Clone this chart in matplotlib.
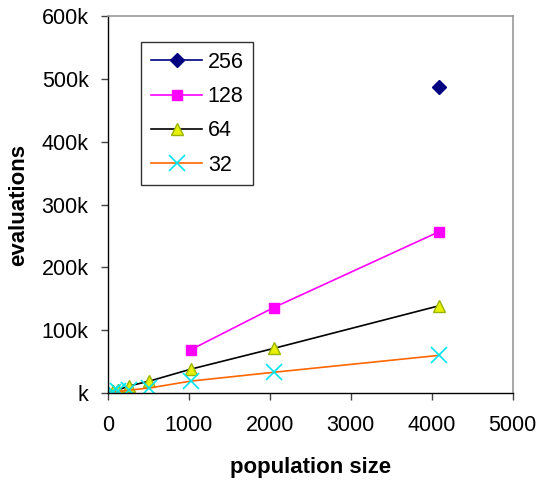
import matplotlib.pyplot as plt
from matplotlib.ticker import FuncFormatter

plt.rcParams['font.family'] = ['Liberation Sans', 'DejaVu Sans']

# datos
pop_256 = [4096]
eval_256 = [487000]

pop_128 = [1024, 2048, 4096]
eval_128 = [69000, 136000, 257000]

pop_64 = [64, 128, 256, 512, 1024, 2048, 4096]
eval_64 = [2500, 5000, 11000, 19000, 38000, 71000, 139000]

pop_32 = [32, 64, 128, 256, 512, 1024, 2048, 4096]
eval_32 = [600, 1200, 2500, 4500, 8000, 19000, 33000, 60000]

fig = plt.figure(figsize=(5.39, 4.82), dpi=100)
ax = fig.add_axes([0.2004, 0.1846, 0.7506, 0.7822])

ax.plot(pop_256, eval_256, color='#000080', marker='D', markersize=7.5,
        linewidth=1.2, label='256')
ax.plot(pop_128, eval_128, color='#ff00ff', marker='s', markersize=7.5,
        linewidth=1.2, label='128')
ax.plot(pop_64, eval_64, color='black', marker='^', markersize=9,
        markerfacecolor='#e6f000', markeredgecolor='#99b300',
        markeredgewidth=1.0, linewidth=1.2, label='64')
ax.plot(pop_32, eval_32, color='#ff6600', marker='x', markersize=12,
        markeredgecolor='#00e5ee', markeredgewidth=1.2,
        linewidth=1.2, label='32')

ax.set_xlim(0, 5000)
ax.set_ylim(0, 600000)
ax.set_xticks(range(0, 5001, 1000))
ax.set_yticks(range(0, 600001, 100000))
ax.yaxis.set_major_formatter(FuncFormatter(lambda v, p: '%dk' % (v / 1000) if v else 'k'))

for s in ['top', 'right']:
    ax.spines[s].set_color('#999999')
    ax.spines[s].set_linewidth(1.2)
for s in ['left', 'bottom']:
    ax.spines[s].set_color('black')
    ax.spines[s].set_linewidth(1.0)
ax.tick_params(direction='out', length=5, width=1, color='#444444',
               labelsize=15.5, pad=9)
ax.tick_params(axis='x', pad=11)

ax.set_xlabel('population size', fontsize=16, fontweight='bold', labelpad=15)
ax.set_ylabel('evaluations', fontsize=16, fontweight='bold', labelpad=9)

leg = ax.legend(loc='upper left', bbox_to_anchor=(141 / 539, 1 - 42 / 482),
                bbox_transform=fig.transFigure, borderaxespad=0,
                fontsize=15.5, frameon=True,
                fancybox=False, edgecolor='black', handlelength=2.4,
                labelspacing=0.62, borderpad=0.45, handletextpad=0.25)
leg.get_frame().set_linewidth(1.0)

plt.savefig('out.png', dpi=100)
